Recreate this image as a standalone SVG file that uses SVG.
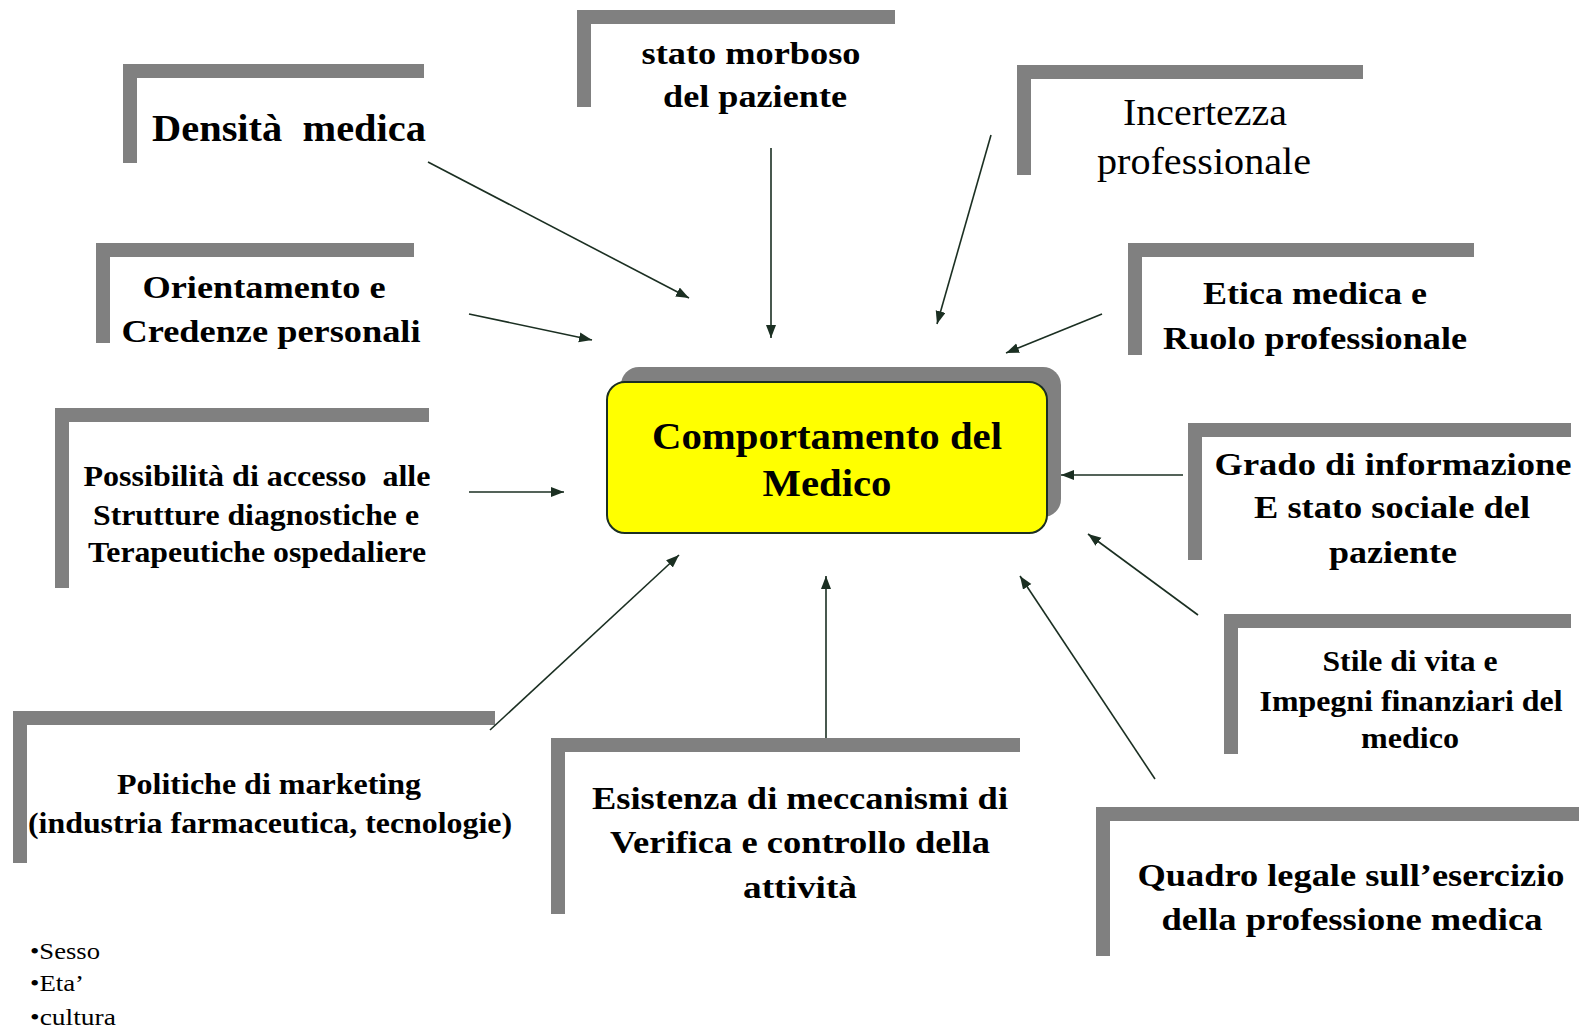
<svg xmlns="http://www.w3.org/2000/svg" width="1589" height="1027" viewBox="0 0 1589 1027">
<style>
.bar{fill:#808080}
.t{font-family:"Liberation Serif","Times New Roman",serif;font-weight:bold;text-anchor:middle;fill:#000;white-space:pre}
.r{font-weight:normal}
.l{font-family:"Liberation Serif","Times New Roman",serif;font-weight:normal;fill:#000}
.c{stroke:#1b2f22;stroke-width:1.6;fill:none;marker-end:url(#ah)}
</style>
<defs>
<marker id="ah" markerUnits="userSpaceOnUse" markerWidth="14" markerHeight="11" refX="13" refY="5" orient="auto">
<path d="M0,0 L13,5 L0,10 z" fill="#1b2f22"/>
</marker>
</defs>
<rect width="1589" height="1027" fill="#fff"/>

<g id="node-densita">
<rect class="bar" x="123" y="64" width="301" height="14"/>
<rect class="bar" x="123" y="64" width="14" height="99"/>
<text class="t" x="289" y="141" font-size="38" textLength="274" lengthAdjust="spacingAndGlyphs">Densità  medica</text>
</g>

<g id="node-stato">
<rect class="bar" x="577" y="10" width="318" height="14"/>
<rect class="bar" x="577" y="10" width="14" height="97"/>
<text class="t" x="751" y="64" font-size="32" textLength="219" lengthAdjust="spacingAndGlyphs">stato morboso</text>
<text class="t" x="755" y="107" font-size="32" textLength="184" lengthAdjust="spacingAndGlyphs">del paziente</text>
</g>

<g id="node-incertezza">
<rect class="bar" x="1017" y="65" width="346" height="14"/>
<rect class="bar" x="1017" y="65" width="14" height="110"/>
<text class="t r" x="1205" y="125" font-size="37" textLength="164" lengthAdjust="spacingAndGlyphs">Incertezza</text>
<text class="t r" x="1204" y="174" font-size="37" textLength="214" lengthAdjust="spacingAndGlyphs">professionale</text>
</g>

<g id="node-orientamento">
<rect class="bar" x="96" y="243" width="318" height="14"/>
<rect class="bar" x="96" y="243" width="14" height="100"/>
<text class="t" x="264" y="298" font-size="32" textLength="243" lengthAdjust="spacingAndGlyphs">Orientamento e</text>
<text class="t" x="271" y="342" font-size="32" textLength="299" lengthAdjust="spacingAndGlyphs">Credenze personali</text>
</g>

<g id="node-etica">
<rect class="bar" x="1128" y="243" width="346" height="14"/>
<rect class="bar" x="1128" y="243" width="14" height="112"/>
<text class="t" x="1315" y="304" font-size="32" textLength="224" lengthAdjust="spacingAndGlyphs">Etica medica e</text>
<text class="t" x="1315" y="349" font-size="32" textLength="304" lengthAdjust="spacingAndGlyphs">Ruolo professionale</text>
</g>

<g id="node-possibilita">
<rect class="bar" x="55" y="408" width="374" height="14"/>
<rect class="bar" x="55" y="408" width="14" height="180"/>
<text class="t" x="257" y="486" font-size="29" textLength="347" lengthAdjust="spacingAndGlyphs">Possibilità di accesso  alle</text>
<text class="t" x="256" y="525" font-size="29" textLength="326" lengthAdjust="spacingAndGlyphs">Strutture diagnostiche e</text>
<text class="t" x="257" y="562" font-size="29" textLength="338" lengthAdjust="spacingAndGlyphs">Terapeutiche ospedaliere</text>
</g>

<g id="node-comportamento">
<rect x="621" y="367" width="440" height="150" rx="18" fill="#808080"/>
<rect x="607" y="382" width="440" height="151" rx="18" fill="#ffff00" stroke="#1b2f22" stroke-width="2"/>
<text class="t" x="827" y="449" font-size="38" textLength="350" lengthAdjust="spacingAndGlyphs">Comportamento del</text>
<text class="t" x="827" y="496" font-size="38" textLength="129" lengthAdjust="spacingAndGlyphs">Medico</text>
</g>

<g id="node-grado">
<rect class="bar" x="1188" y="423" width="383" height="14"/>
<rect class="bar" x="1188" y="423" width="14" height="137"/>
<text class="t" x="1393" y="475" font-size="32" textLength="357" lengthAdjust="spacingAndGlyphs">Grado di informazione</text>
<text class="t" x="1392" y="518" font-size="32" textLength="276" lengthAdjust="spacingAndGlyphs">E stato sociale del</text>
<text class="t" x="1393" y="563" font-size="32" textLength="128" lengthAdjust="spacingAndGlyphs">paziente</text>
</g>

<g id="node-stile">
<rect class="bar" x="1224" y="614" width="347" height="14"/>
<rect class="bar" x="1224" y="614" width="14" height="140"/>
<text class="t" x="1410" y="671" font-size="29" textLength="175" lengthAdjust="spacingAndGlyphs">Stile di vita e</text>
<text class="t" x="1411" y="711" font-size="29" textLength="303" lengthAdjust="spacingAndGlyphs">Impegni finanziari del</text>
<text class="t" x="1410" y="748" font-size="29" textLength="98" lengthAdjust="spacingAndGlyphs">medico</text>
</g>

<g id="node-politiche">
<rect class="bar" x="13" y="711" width="482" height="14"/>
<rect class="bar" x="13" y="711" width="14" height="152"/>
<text class="t" x="269" y="794" font-size="29" textLength="304" lengthAdjust="spacingAndGlyphs">Politiche di marketing</text>
<text class="t" x="270" y="833" font-size="29" textLength="484" lengthAdjust="spacingAndGlyphs">(industria farmaceutica, tecnologie)</text>
</g>

<g id="node-esistenza">
<rect class="bar" x="551" y="738" width="469" height="14"/>
<rect class="bar" x="551" y="738" width="14" height="176"/>
<text class="t" x="800" y="809" font-size="32" textLength="416" lengthAdjust="spacingAndGlyphs">Esistenza di meccanismi di</text>
<text class="t" x="800" y="853" font-size="32" textLength="380" lengthAdjust="spacingAndGlyphs">Verifica e controllo della</text>
<text class="t" x="800" y="898" font-size="32" textLength="114" lengthAdjust="spacingAndGlyphs">attività</text>
</g>

<g id="node-quadro">
<rect class="bar" x="1096" y="807" width="483" height="14"/>
<rect class="bar" x="1096" y="807" width="14" height="149"/>
<text class="t" x="1351" y="886" font-size="32" textLength="427" lengthAdjust="spacingAndGlyphs">Quadro legale sull’esercizio</text>
<text class="t" x="1352" y="930" font-size="32" textLength="381" lengthAdjust="spacingAndGlyphs">della professione medica</text>
</g>

<g id="node-elenco">
<text class="l" x="30" y="959" font-size="23" textLength="70" lengthAdjust="spacingAndGlyphs">•Sesso</text>
<text class="l" x="30" y="991" font-size="23" textLength="54" lengthAdjust="spacingAndGlyphs">•Eta’</text>
<text class="l" x="30" y="1025" font-size="23" textLength="86" lengthAdjust="spacingAndGlyphs">•cultura</text>
</g>

<g id="connectors">
<line class="c" x1="428" y1="162" x2="689" y2="298"/>
<line class="c" x1="771" y1="148" x2="771" y2="338"/>
<line class="c" x1="991" y1="135" x2="937" y2="324"/>
<line class="c" x1="469" y1="314" x2="592" y2="340"/>
<line class="c" x1="1102" y1="314" x2="1006" y2="353"/>
<line class="c" x1="469" y1="492" x2="564" y2="492"/>
<line class="c" x1="1183" y1="475" x2="1061" y2="475"/>
<line class="c" x1="1198" y1="615" x2="1088" y2="534"/>
<line class="c" x1="490" y1="730" x2="679" y2="555"/>
<line class="c" x1="826" y1="738" x2="826" y2="576"/>
<line class="c" x1="1155" y1="779" x2="1020" y2="576"/>
</g>
</svg>
